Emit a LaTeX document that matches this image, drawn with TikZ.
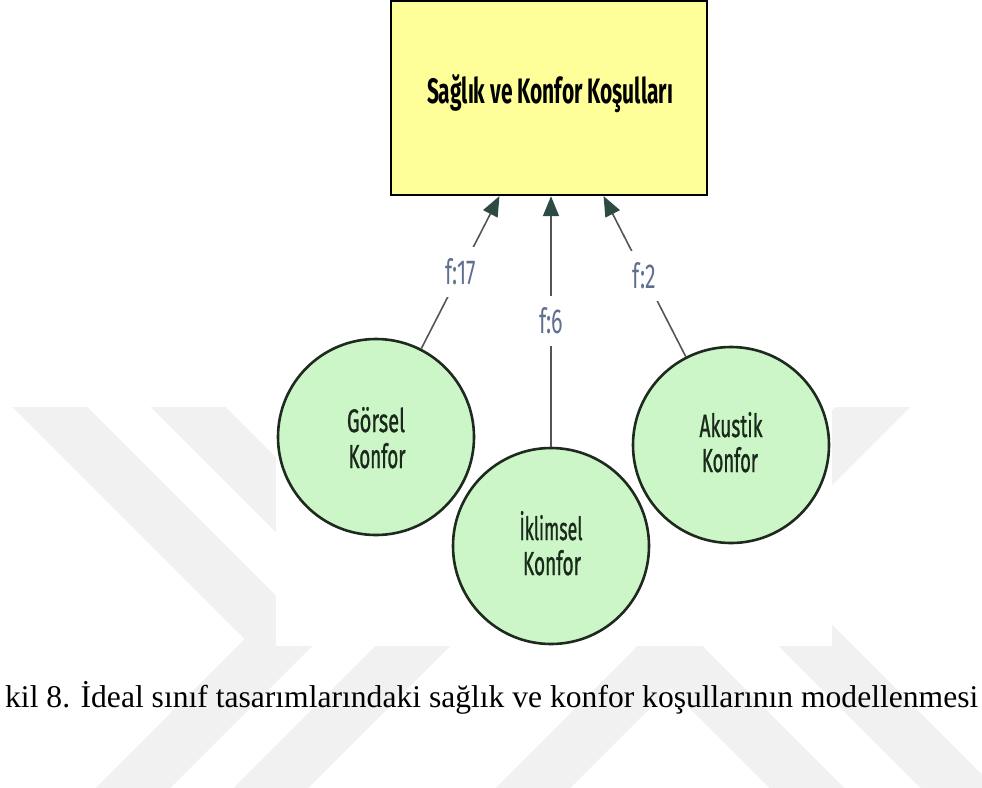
\documentclass[tikz,border=0pt]{standalone}
\usepackage{fontspec}
\setmainfont{Liberation Serif}
\newfontfamily\dfont{Fira Sans}
\newfontfamily\dmfont[FakeBold=1.2]{Fira Sans}
\usetikzlibrary{arrows.meta}
\definecolor{boxfill}{HTML}{FFFF99}
\definecolor{circfill}{HTML}{CCF5C8}
\definecolor{circdraw}{HTML}{1E2A1E}
\definecolor{linecol}{HTML}{555555}
\definecolor{tipcol}{HTML}{2E4A44}
\definecolor{labcol}{HTML}{5F6F8F}
\definecolor{txtcol}{HTML}{1A2A1A}
\definecolor{wmcol}{HTML}{F1F1F1}
\newcommand{\fitbox}[3]{\resizebox{#1}{#2}{#3}}
\begin{document}
\begin{tikzpicture}[x=1pt,y=-1pt,
  concept/.style={circle, draw=circdraw, line width=2.6pt, fill=circfill, minimum size=196pt, inner sep=0pt},
  mainbox/.style={draw=black, line width=2.6pt, fill=boxfill, inner sep=0pt},
  link/.style={draw=linecol, line width=1.6pt, arrows={-Triangle[length=20pt,width=16pt,color=tipcol]}, shorten >=1.2pt},
  flabel/.style={fill=white, inner xsep=3pt, inner ysep=12pt, text=labcol},
  ctext/.style={text=txtcol, anchor=base, inner sep=0pt},
  band/.style={draw=wmcol, line width=53pt, line join=miter, line cap=butt}
]
\useasboundingbox (0,0) rectangle (982,787);
\fill[white] (0,0) rectangle (982,787);
% watermark
\begin{scope}
  \clip (0,407) rectangle (982,787);
  \draw[band] (10,367) -- (282,639) -- (100,821);
  \draw[band] (148,367) -- (420,639) -- (238,821);
  \draw[band] (913,367) -- (725,555) -- (991,821);
  \draw[band] (500,821) -- (670,651) -- (840,821);
\end{scope}
\fill[white] (276,0) rectangle (832,646);
% main box
\node[mainbox, minimum width=316pt, minimum height=194pt] (box) at (549,98) {};
\node[anchor=base, inner sep=0pt, text=black] (title) at (550,103)
  {\fitbox{246pt}{29pt}{\dfont\bfseries Sağlık ve Konfor Koşulları}};
% concepts
\node[concept] (g) at (376,437) {};
\node[concept] (i) at (551,546) {};
\node[concept] (a) at (731,445) {};
\node[ctext] (g1) at (376,432) {\fitbox{58pt}{25pt}{\dmfont Görsel}};
\node[ctext] (g2) at (377,468) {\fitbox{57pt}{25pt}{\dmfont Konfor}};
\node[ctext] (i1) at (551,540) {\fitbox{63pt}{29pt}{\dmfont İklimsel}};
\node[ctext] (i2) at (552,575) {\fitbox{58pt}{25pt}{\dmfont Konfor}};
\node[ctext] (a1) at (731,437) {\fitbox{63pt}{25pt}{\dmfont Akustik}};
\node[ctext] (a2) at (730,472) {\fitbox{56pt}{25pt}{\dmfont Konfor}};
% connectors
\coordinate (t1) at (500,195);
\coordinate (t2) at (551,195);
\coordinate (t3) at (603,195);
\draw[link] (g) -- (t1) node[midway, flabel] (l1) {\fitbox{30pt}{26pt}{\dfont f:17}};
\draw[link] (i) -- (t2) node[midway, flabel] (l2) {\fitbox{24pt}{26pt}{\dfont f:6}};
\draw[link] (a) -- (t3) node[midway, flabel] (l3) {\fitbox{23pt}{26pt}{\dfont f:2}};
% caption
\node[anchor=base west, inner sep=0pt] (cap) at (5,707)
  {\resizebox{973pt}{!}{\fontsize{25}{30}\selectfont kil 8. İdeal sınıf tasarımlarındaki sağlık ve konfor koşullarının modellenmesi}};
\end{tikzpicture}
\end{document}
